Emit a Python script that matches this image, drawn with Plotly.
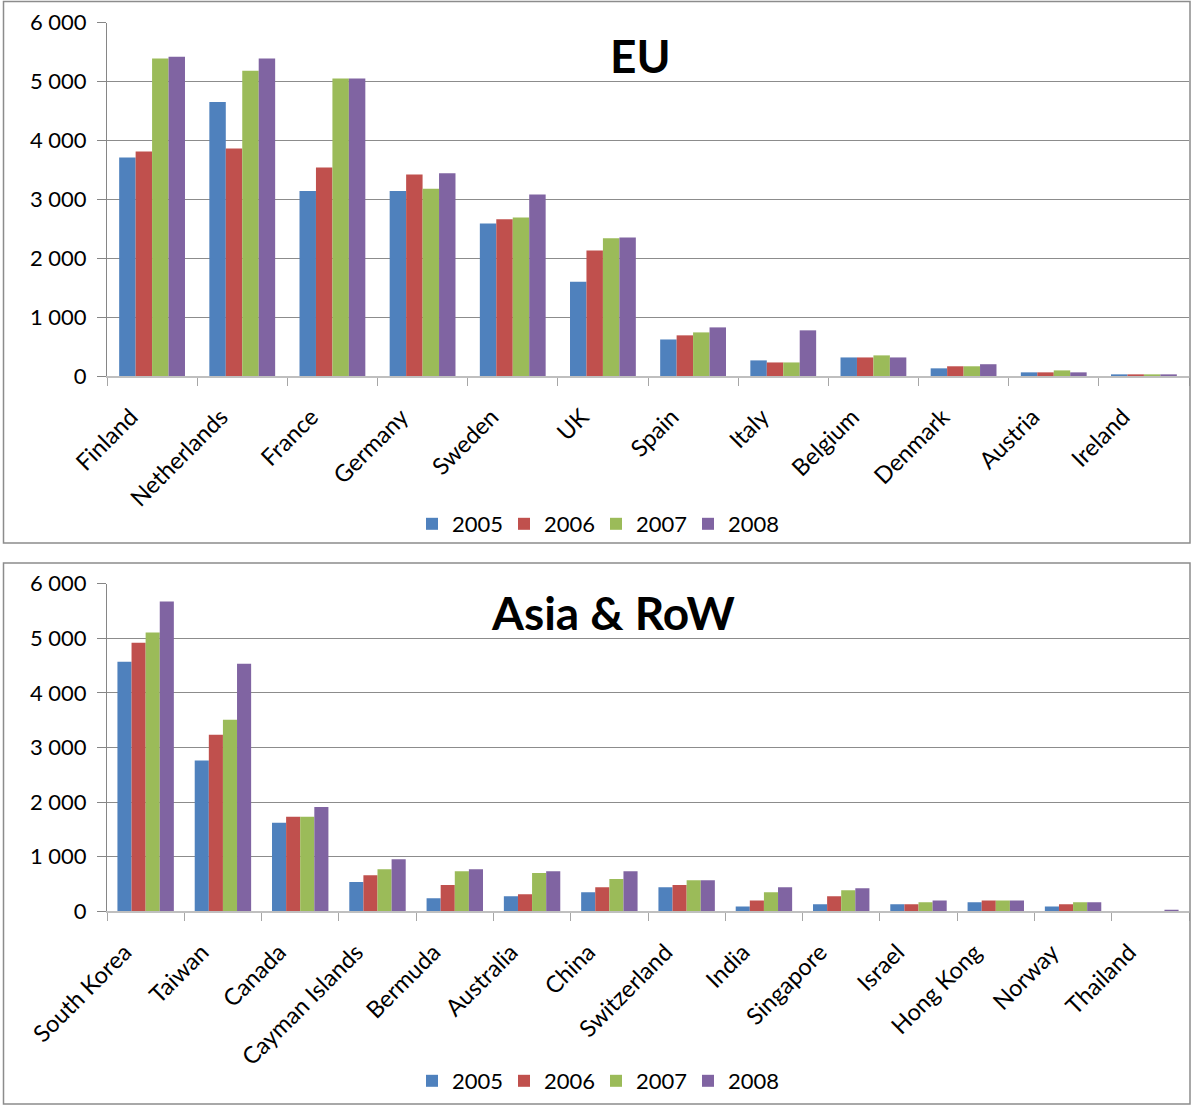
import plotly.graph_objects as go

years = ["2005", "2006", "2007", "2008"]
colors = ["#4F81BD", "#C0504D", "#9BBB59", "#8064A2"]

eu_countries = ["Finland", "Netherlands", "France", "Germany", "Sweden", "UK",
                "Spain", "Italy", "Belgium", "Denmark", "Austria", "Ireland"]
eu_2005 = [3710, 4650, 3140, 3140, 2590, 1600, 620, 265, 315, 130, 62, 28]
eu_2006 = [3810, 3860, 3540, 3420, 2660, 2130, 690, 230, 315, 165, 62, 28]
eu_2007 = [5390, 5180, 5050, 3180, 2690, 2340, 740, 230, 350, 165, 95, 28]
eu_2008 = [5420, 5390, 5050, 3440, 3080, 2350, 825, 775, 315, 200, 62, 28]

row_countries = ["South Korea", "Taiwan", "Canada", "Cayman Islands", "Bermuda",
                 "Australia", "China", "Switzerland", "India", "Singapore",
                 "Israel", "Hong Kong", "Norway", "Thailand"]
row_2005 = [4570, 2760, 1620, 535, 240, 275, 350, 440, 90, 130, 130, 165, 90, 0]
row_2006 = [4920, 3235, 1730, 660, 480, 310, 440, 480, 200, 275, 130, 200, 130, 0]
row_2007 = [5105, 3510, 1730, 770, 735, 700, 590, 570, 350, 385, 165, 200, 165, 0]
row_2008 = [5675, 4535, 1910, 955, 770, 735, 735, 570, 440, 420, 200, 200, 165, 18]

y_ticks = [0, 1000, 2000, 3000, 4000, 5000, 6000]
y_tick_labels = ["0", "1 000", "2 000", "3 000", "4 000", "5 000", "6 000"]

W, H = 1192, 1106
FONT = "Lato, 'Open Sans', sans-serif"

def py(px):
    return 1 - px / H

def px_x(px):
    return px / W

fig = go.Figure()

eu_series = [eu_2005, eu_2006, eu_2007, eu_2008]
row_series = [row_2005, row_2006, row_2007, row_2008]

for i, (yr, vals) in enumerate(zip(years, eu_series)):
    fig.add_trace(go.Bar(x=eu_countries, y=vals, name=yr, marker_color=colors[i],
                         marker_line_width=0, xaxis="x", yaxis="y", legend="legend"))
for i, (yr, vals) in enumerate(zip(years, row_series)):
    fig.add_trace(go.Bar(x=row_countries, y=vals, name=yr, marker_color=colors[i],
                         marker_line_width=0, xaxis="x2", yaxis="y2", legend="legend2"))

axis_common_x = dict(
    type="category", tickangle=-45, showline=True, linecolor="#BFBFBF", linewidth=2,
    ticks="outside", tickson="boundaries", ticklen=8, tickcolor="#A6A6A6", tickwidth=1,
    tickfont=dict(size=23.5, color="black", family=FONT), showgrid=False, zeroline=False,
    automargin=False, ticklabelshift=-21, ticklabelstandoff=16,
)
axis_common_y = dict(
    range=[0, 6000], tickvals=y_ticks, ticktext=y_tick_labels, showline=True,
    linecolor="#868686", linewidth=1, ticks="outside", ticklen=9, tickcolor="#868686",
    showgrid=True, gridcolor="#8C8C8C", gridwidth=1, zeroline=False,
    tickfont=dict(size=22, color="black", family=FONT), ticklabelstandoff=6,
    automargin=False,
)

legend_common = dict(orientation="h", x=0.5, xanchor="center", yanchor="middle",
                     font=dict(size=22, family=FONT), itemwidth=30, traceorder="normal",
                     entrywidth=47, entrywidthmode="pixels", bgcolor="rgba(0,0,0,0)")

fig.update_layout(
    width=W, height=H,
    margin=dict(l=0, r=0, t=0, b=0, autoexpand=False),
    paper_bgcolor="white", plot_bgcolor="white",
    barmode="group", bargap=0.27, bargroupgap=0,
    font=dict(family=FONT, color="black"),
    xaxis=dict(domain=[px_x(107), px_x(1189)], anchor="y", **axis_common_x),
    yaxis=dict(domain=[py(376), py(22.5)], anchor="x", **axis_common_y),
    xaxis2=dict(domain=[px_x(107), px_x(1189)], anchor="y2", **axis_common_x),
    yaxis2=dict(domain=[py(911.3), py(583.7)], anchor="x2", **axis_common_y),
    legend=dict(y=py(524), **legend_common),
    legend2=dict(y=py(1081), **legend_common),
    showlegend=True,
)

fig.add_annotation(text="<b>EU</b>", x=px_x(640), y=py(55), xref="paper", yref="paper",
                   showarrow=False, font=dict(size=46, family=FONT, color="black"),
                   xanchor="center", yanchor="middle")
fig.add_annotation(text="<b>Asia &amp; RoW</b>", x=px_x(613), y=py(612), xref="paper", yref="paper",
                   showarrow=False, font=dict(size=46, family=FONT, color="black"),
                   xanchor="center", yanchor="middle")

for (y0, y1) in [(1.5, 543), (563, 1104)]:
    fig.add_shape(type="rect", xref="paper", yref="paper",
                  x0=px_x(3.5), x1=px_x(1190), y0=py(y1), y1=py(y0),
                  line=dict(color="#8C8C8C", width=1.5), layer="above")

fig.write_html("out.html", config={"displayModeBar": False},
               post_script="document.body.style.margin='0';")
